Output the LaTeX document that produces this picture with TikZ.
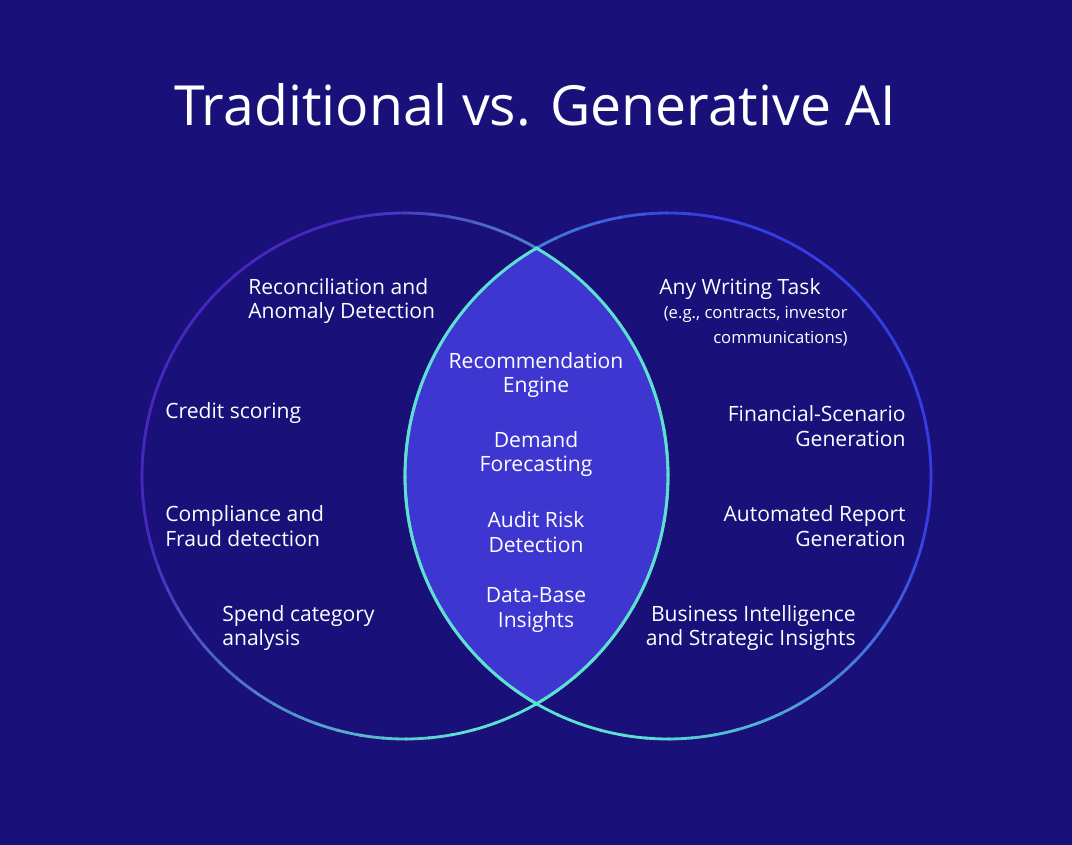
\documentclass[tikz,border=0pt]{standalone}
\usepackage{fontspec}
\setmainfont{Open Sans}
\usetikzlibrary{positioning}
\definecolor{navybg}{RGB}{26,16,122}
\definecolor{lensfill}{RGB}{62,54,208}
\definecolor{rimteal}{RGB}{92,224,208}
\definecolor{rimblue}{RGB}{52,60,226}
\definecolor{rimpurple}{RGB}{70,40,190}
\tikzset{
  item/.style={text=white, font=\fontsize{12}{14}\selectfont, inner sep=0pt},
  note/.style={text=white, font=\fontsize{9.5}{14}\selectfont, inner sep=0pt}
}
\begin{document}
\begin{tikzpicture}[x=0.02cm, y=0.02cm]
  % background
  \fill[navybg] (0,0) rectangle (1072,845);
  \useasboundingbox (0,0) rectangle (1072,845);
  % lens
  \begin{scope}
    \clip (405,369) circle (263);
    \fill[lensfill] (668,369) circle (263);
  \end{scope}
  % circle rims, coloured piece by piece
  \foreach \a in {0,5,...,355}{
    \pgfmathsetmacro{\tl}{max(0,min(100,50+60*cos(\a)-40*sin(\a)))}
    \pgfmathsetmacro{\tr}{max(0,min(100,50-60*cos(\a)-40*sin(\a)))}
    \draw[line width=1.6pt, rimteal!\tl!rimpurple]
      ([shift={(\a:263)}]405,369) arc (\a:\a+5.5:263);
    \draw[line width=1.6pt, rimteal!\tr!rimblue]
      ([shift={(\a:263)}]668,369) arc (\a:\a+5.5:263);
  }
  % lens border
  \begin{scope}
    \clip (405,369) circle (264.5);
    \draw[line width=1.6pt, rimteal] (668,369) circle (263);
  \end{scope}
  \begin{scope}
    \clip (668,369) circle (264.5);
    \draw[line width=1.6pt, rimteal] (405,369) circle (263);
  \end{scope}
  % title
  \node[text=white, font=\fontsize{31.5}{36}\selectfont] (title) at (535,740) {Traditional vs. Generative AI};
  % traditional
  \node[item, anchor=west, align=left] (recon) at (248,544) {Reconciliation and\\Anomaly Detection};
  \node[item, anchor=west] (credit) at (165,432) {Credit scoring};
  \node[item, anchor=west, align=left] (fraud) at (165,319) {Compliance and\\Fraud detection};
  \node[item, anchor=west, align=left] (spend) at (222,217) {Spend category\\analysis};
  % shared
  \node[item, align=center] (recom) at (536,470) {Recommendation\\Engine};
  \node[item, align=center] (demand) at (536,391) {Demand\\Forecasting};
  \node[item, align=center] (audit) at (536,313) {Audit Risk\\Detection};
  \node[item, align=center] (database) at (536,235) {Data-Base\\Insights};
  % generative
  \node[item, anchor=west] (writing) at (659,556) {Any Writing Task};
  \node[note, anchor=north east, align=right] (eg) at (848,539) {(e.g., contracts, investor\\communications)};
  \node[item, anchor=east, align=right] (scenario) at (906,419) {Financial-Scenario\\Generation};
  \node[item, anchor=east, align=right] (report) at (906,319) {Automated Report\\Generation};
  \node[item, anchor=east, align=right] (bi) at (856,217) {Business Intelligence\\and Strategic Insights};
\end{tikzpicture}
\end{document}
